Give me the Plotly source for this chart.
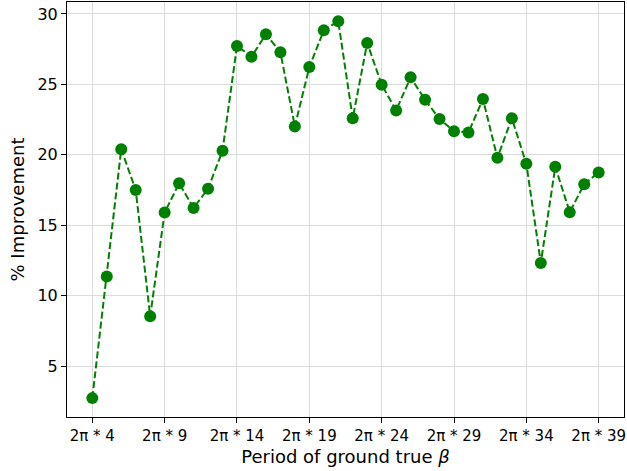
import plotly.graph_objects as go

periods = list(range(4, 40))
improvement = [2.73, 11.36, 20.4, 17.5, 8.54, 15.91, 17.98, 16.23, 17.6, 20.29,
               27.73, 26.97, 28.56, 27.28, 22.02, 26.23, 28.84, 29.48, 22.59, 27.94,
               24.98, 23.15, 25.5, 23.91, 22.54, 21.68, 21.59, 23.96, 19.79, 22.59,
               19.36, 12.33, 19.15, 15.93, 17.92, 18.75]
tick_vals = list(range(4, 40, 5))
tick_text = [f"2π * {v}" for v in tick_vals]
y_ticks = [5, 10, 15, 20, 25, 30]

fig = go.Figure()
fig.add_trace(go.Scatter(
    x=periods, y=improvement, mode="lines+markers",
    line=dict(color="#008000", width=2, dash="7px,3px"),
    marker=dict(color="#008000", size=12),
    showlegend=False,
))

axis_common = dict(
    showline=True, linecolor="black", linewidth=1, mirror=True,
    ticks="outside", ticklen=5, tickcolor="black", tickwidth=1,
    showgrid=True, gridcolor="#dcdcdc", gridwidth=1, zeroline=False,
    automargin=False,
)

fig.update_xaxes(range=[2.25, 40.75], tickvals=tick_vals, ticktext=tick_text,
                 tickfont=dict(family="DejaVu Sans", size=15, color="black"),
                 title=dict(text="Period of ground true <i>β</i>", standoff=6,
                            font=dict(family="DejaVu Sans", size=18, color="black")),
                 **axis_common)
fig.update_yaxes(range=[1.39, 30.85], tickvals=y_ticks,
                 tickfont=dict(family="DejaVu Sans", size=16, color="black"),
                 title=dict(text="% Improvement", standoff=8,
                            font=dict(family="DejaVu Sans", size=18, color="black")),
                 **axis_common)

fig.update_layout(
    width=627, height=471,
    margin=dict(l=67, r=3, t=2, b=54),
    plot_bgcolor="white", paper_bgcolor="white",
    font=dict(family="DejaVu Sans", color="black"),
)

fig.write_html("out.html", config={"displayModeBar": False},
               post_script="document.body.style.margin='0';")
